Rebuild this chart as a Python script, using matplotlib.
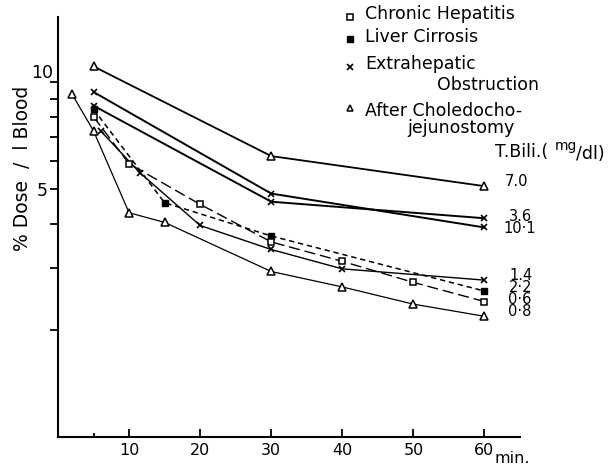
import matplotlib
matplotlib.use("Agg")
import matplotlib.pyplot as plt
from matplotlib.ticker import FixedLocator, NullFormatter

# Time after injection (min) and blood level (% dose per litre) for each patient
t_70 = [5, 30, 60]
v_70 = [11.1, 6.2, 5.1]

t_101 = [5, 30, 60]
v_101 = [9.4, 4.86, 3.9]

t_36 = [5, 30, 60]
v_36 = [8.6, 4.61, 4.14]

t_14 = [6, 11.5, 20, 30, 40, 60]
v_14 = [7.3, 5.57, 3.95, 3.38, 2.98, 2.77]

t_22 = [5, 15, 30, 60]
v_22 = [8.4, 4.58, 3.69, 2.58]

t_06 = [5, 10, 20, 30, 40, 50, 60]
v_06 = [8.0, 5.9, 4.53, 3.55, 3.13, 2.73, 2.41]

t_08 = [2, 5, 10, 15, 30, 40, 50, 60]
v_08 = [9.25, 7.3, 4.29, 4.03, 2.93, 2.65, 2.37, 2.19]

bili_labels = ["7.0", "3.6", "10·1", "1.4", "2·2", "0·6", "0·8"]
x_ticks = [10, 20, 30, 40, 50, 60]
y_major = [5, 10]
y_minor = [2, 3, 4, 6, 7, 8, 9]

legend_labels = ["Chronic Hepatitis", "Liver Cirrosis", "Extrahepatic", "After Choledocho-"]

W, H, DPI = 614, 469, 100
plt.rcParams["font.family"] = ["DejaVu Sans"]


def fx(px):
    return px / W


def fy(py):
    return 1 - py / H


fig = plt.figure(figsize=(W / DPI, H / DPI), dpi=DPI)
ax = fig.add_axes([fx(58), fy(437), (520 - 58) / W, (437 - 17) / H])
ax.set_yscale("log")
ax.set_xlim(0, 65)
ax.set_ylim(1.0, 15.3)

k = "black"
tri = dict(marker="^", ms=5.5, mfc="white", mec=k, mew=1.1)
sq = dict(marker="s", ms=4.6, mfc="white", mec=k, mew=1.1)
fsq = dict(marker="s", ms=4.6, mfc=k, mec=k, mew=1.0)
xm = dict(marker="x", ms=4.6, mec=k, mew=1.2)

ax.plot(t_70, v_70, color=k, lw=1.3, **tri)
ax.plot(t_101, v_101, color=k, lw=1.4, **xm)
ax.plot(t_36, v_36, color=k, lw=1.4, **xm)
ax.plot(t_14, v_14, color=k, lw=1.0, **xm)
ax.plot(t_22, v_22, color=k, lw=1.1, dashes=(3.5, 2.5), **fsq)
ax.plot(t_06, v_06, color=k, lw=1.0, dashes=(8, 3.5), **sq)
ax.plot(t_08, v_08, color=k, lw=0.9, **tri)

# spines
for s in ("top", "right"):
    ax.spines[s].set_visible(False)
for s in ("left", "bottom"):
    ax.spines[s].set_linewidth(1.5)

# x axis: ticks pointing up into the plot
ax.set_xticks(x_ticks)
ax.set_xticklabels([str(v) for v in x_ticks])
ax.xaxis.set_minor_locator(FixedLocator([5]))
ax.tick_params(axis="x", which="major", direction="in", length=5.5, width=1.3,
               labelsize=11.5, pad=4)
ax.tick_params(axis="x", which="minor", direction="in", length=3, width=1.3)

# y axis: log scale, ticks pointing outward
ax.yaxis.set_major_locator(FixedLocator(y_major))
ax.yaxis.set_minor_locator(FixedLocator(y_minor))
ax.yaxis.set_minor_formatter(NullFormatter())
ax.set_yticklabels([str(v) for v in y_major])
ax.tick_params(axis="y", which="major", direction="out", length=5.8, width=1.3,
               labelsize=12.5, pad=1.5)
ax.tick_params(axis="y", which="minor", direction="out", length=5.8, width=1.3)
ytk = ax.yaxis.get_major_ticks()
ytk[1].tick1line.set_markersize(9.4)
ytk[1].label1.set_va("bottom")
ytk[1].set_pad(-2.2)

fig.text(fx(23), fy(168), "% Dose  /  l Blood", rotation=90, ha="center", va="center",
         fontsize=13.5)
fig.text(fx(495), fy(458), "min.", ha="left", va="center", fontsize=11.5)

# legend, drawn by hand
key_style = [sq, fsq, xm, tri]
key_y = [16.7, 39, 67, 108]
text_y = [14, 37, 64, 111]
for sty, ky, ty, lab in zip(key_style, key_y, text_y, legend_labels):
    ax.plot([fx(350)], [fy(ky)], transform=fig.transFigure, clip_on=False,
            ls="none", **{**sty, "ms": sty["ms"] * 0.85})
    fig.text(fx(365), fy(ty), lab, ha="left", va="center", fontsize=12.5)
fig.text(fx(437), fy(85), "Obstruction", ha="left", va="center", fontsize=12.5)
fig.text(fx(407), fy(128), "jejunostomy", ha="left", va="center", fontsize=12.5)

# bilirubin header and values at the line ends
fig.text(fx(495), fy(152), "T.Bili.(", ha="left", va="center", fontsize=12.5)
fig.text(fx(555), fy(146), "mg", ha="left", va="center", fontsize=10)
fig.text(fx(576), fy(154), "/dl)", ha="left", va="center", fontsize=12.5)

label_y = [182, 216, 228, 275, 287, 299, 311]
label_x = [505, 509, 503, 509, 509, 508, 508]
for lab, lx, ly in zip(bili_labels, label_x, label_y):
    fig.text(fx(lx), fy(ly), lab, ha="left", va="center", fontsize=10.5,
             linespacing=0.9)

fig.savefig("out.png", dpi=DPI)
